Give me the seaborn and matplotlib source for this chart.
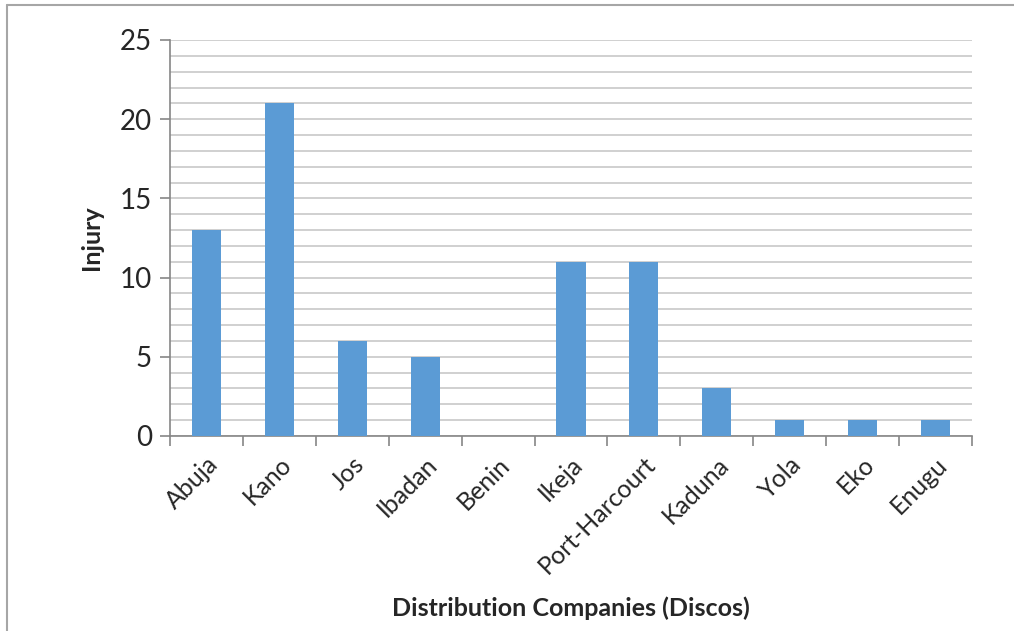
import matplotlib
matplotlib.use("Agg")
import matplotlib.pyplot as plt
from matplotlib.lines import Line2D
from matplotlib.ticker import MultipleLocator
import seaborn as sns
import pandas as pd

discos = ["Abuja", "Kano", "Jos", "Ibadan", "Benin", "Ikeja",
          "Port-Harcourt", "Kaduna", "Yola", "Eko", "Enugu"]
injury = [13, 21, 6, 5, 0, 11, 11, 3, 1, 1, 1]
y_ticks = [0, 5, 10, 15, 20, 25]

df = pd.DataFrame({"Disco": discos, "Injury": injury})

sns.set_theme(style="white")
plt.rcParams["font.family"] = ["Lato", "DejaVu Sans"]

fig = plt.figure(figsize=(10.14, 6.31), dpi=100)
ax = fig.add_axes([170 / 1014, 1 - 436 / 631, 802 / 1014, 396 / 631])

sns.barplot(data=df, x="Disco", y="Injury", color="#5B9BD5",
            width=0.4, saturation=1, linewidth=0, ax=ax, zorder=3)

ax.set_ylim(0, 25)
ax.set_xlim(-0.5, len(discos) - 0.5)
ax.yaxis.set_minor_locator(MultipleLocator(1))
ax.set_yticks(y_ticks)
ax.grid(axis="y", which="both", color="#C4C4C4", linewidth=1.1, zorder=0)
ax.set_axisbelow(True)

for side in ["top", "right"]:
    ax.spines[side].set_visible(False)
for side in ["left", "bottom"]:
    ax.spines[side].set_color("#868686")
    ax.spines[side].set_linewidth(1.2)

ax.tick_params(axis="y", which="major", left=True, direction="out", length=7,
               color="#868686", width=1.2, labelsize=20, pad=6)
ax.tick_params(axis="y", which="minor", left=False, length=0)

# category ticks sit on the boundaries between bars
ax.set_xticks([i - 0.5 for i in range(len(discos) + 1)], minor=True)
ax.tick_params(axis="x", which="minor", bottom=True, direction="out", length=7,
               color="#868686", width=1.2)
ax.set_xticks(range(len(discos)))
ax.set_xticklabels(discos, rotation=45, ha="right", rotation_mode="anchor")
ax.tick_params(axis="x", which="major", bottom=False, length=0,
               labelsize=18, pad=12)

ax.set_ylabel("Injury", fontsize=18, fontweight="bold")
ax.yaxis.set_label_coords(-0.083, 0.5)
ax.set_xlabel("Distribution Companies (Discos)", fontsize=18,
              fontweight="bold")
ax.xaxis.set_label_coords(0.5, -0.405)

# chart frame edges
fig.add_artist(Line2D([6.5 / 1014, 6.5 / 1014], [0, 1 - 4.5 / 631],
                      transform=fig.transFigure, color="#A6A6A6", linewidth=1.5))
fig.add_artist(Line2D([6.5 / 1014, 1], [1 - 4.5 / 631, 1 - 4.5 / 631],
                      transform=fig.transFigure, color="#A6A6A6", linewidth=1.5))

fig.savefig("out.png", dpi=100)
